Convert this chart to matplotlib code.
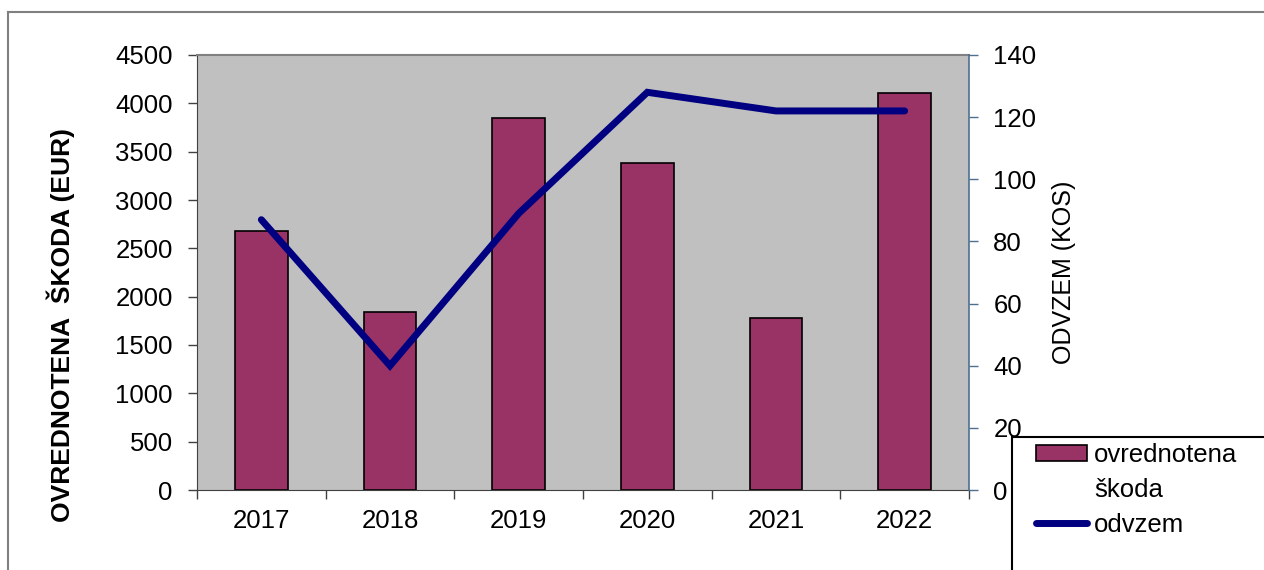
import matplotlib
matplotlib.use('Agg')
import matplotlib.pyplot as plt
from matplotlib.patches import Rectangle
from matplotlib.lines import Line2D
import numpy as np

plt.rcParams['font.family'] = ['Liberation Sans', 'DejaVu Sans']

years = ['2017', '2018', '2019', '2020', '2021', '2022']
skoda = [2680, 1840, 3850, 3380, 1780, 4110]
odvzem = [87, 40, 89, 128, 122, 122]

bar_color = '#993366'
line_color = '#000080'
fs = 18.5

fig = plt.figure(figsize=(12.64, 5.70), dpi=100)
ax = fig.add_axes([197/1264, 80/570, 772/1264, 435/570])
ax.set_facecolor('#c0c0c0')

x = np.arange(len(years))
bars = ax.bar(x, skoda, width=0.41, color=bar_color, edgecolor='black',
              linewidth=1.2, zorder=2)
ax.set_xlim(-0.5, len(years) - 0.5)
ax.set_ylim(0, 4500)
ax.set_yticks(range(0, 4501, 500))
ax.set_xticks(np.arange(-0.5, len(years), 1.0))
ax.set_xticklabels([])
ax.set_xticks(x, minor=True)
ax.set_xticklabels(years, minor=True)
ax.tick_params(axis='x', which='major', direction='out', length=6.5, width=1, color='#404040')
ax.tick_params(axis='x', which='minor', length=0, pad=14, labelsize=fs)
ax.tick_params(axis='y', direction='out', length=6.5, width=1, color='#404040',
               pad=11, labelsize=fs)
ax.spines['top'].set_color('#808080')
ax.spines['top'].set_linewidth(1.5)
ax.spines['left'].set_color('#404040')
ax.spines['bottom'].set_color('#404040')
ax.spines['right'].set_visible(False)
ax.set_ylabel('OVREDNOTENA  ŠKODA (EUR)', fontsize=19, fontweight='bold')
ax.yaxis.set_label_coords(-0.158, 0.38)

ax2 = ax.twinx()
line, = ax2.plot(x, odvzem, color=line_color, linewidth=5, solid_capstyle='round',
                 solid_joinstyle='miter', zorder=3)
ax2.set_ylim(0, 140)
ax2.set_yticks(range(0, 141, 20))
ax2.tick_params(axis='y', direction='out', length=6.5, width=1, color='#4f6f8f',
                pad=11, labelsize=fs)
ax2.spines['right'].set_color('#4f6f8f')
ax2.spines['right'].set_linewidth(1.2)
for s in ['top', 'left', 'bottom']:
    ax2.spines[s].set_visible(False)
ax2.set_ylabel('ODVZEM (KOS)', fontsize=18)
ax2.yaxis.set_label_coords(1.107, 0.5)

# outer chart frame
fig.add_artist(Line2D([8/1264, 1.0], [1 - 12/570, 1 - 12/570], color='#808080',
                      linewidth=1.5, transform=fig.transFigure))
fig.add_artist(Line2D([8/1264, 8/1264], [0, 1 - 12/570], color='#808080',
                      linewidth=1.5, transform=fig.transFigure))

# legend box running off the edge
fig.add_artist(Rectangle((1012/1264, -0.05), 0.3, 0.05 + 1 - 437/570,
                         facecolor='white', edgecolor='black', linewidth=1.5,
                         transform=fig.transFigure, zorder=5))
blank = Rectangle((0, 0), 1, 1, alpha=0)
leg = fig.legend([bars, blank, line], ['ovrednotena', 'škoda', 'odvzem'],
                 loc='upper left', bbox_to_anchor=(1036/1264, 1 - 443/570),
                 frameon=False, fontsize=fs, handlelength=2.0, handleheight=0.55,
                 handletextpad=0.25, borderpad=0, borderaxespad=0,
                 labelspacing=0.42)
leg.set_zorder(6)

fig.savefig('out.png', dpi=100)
